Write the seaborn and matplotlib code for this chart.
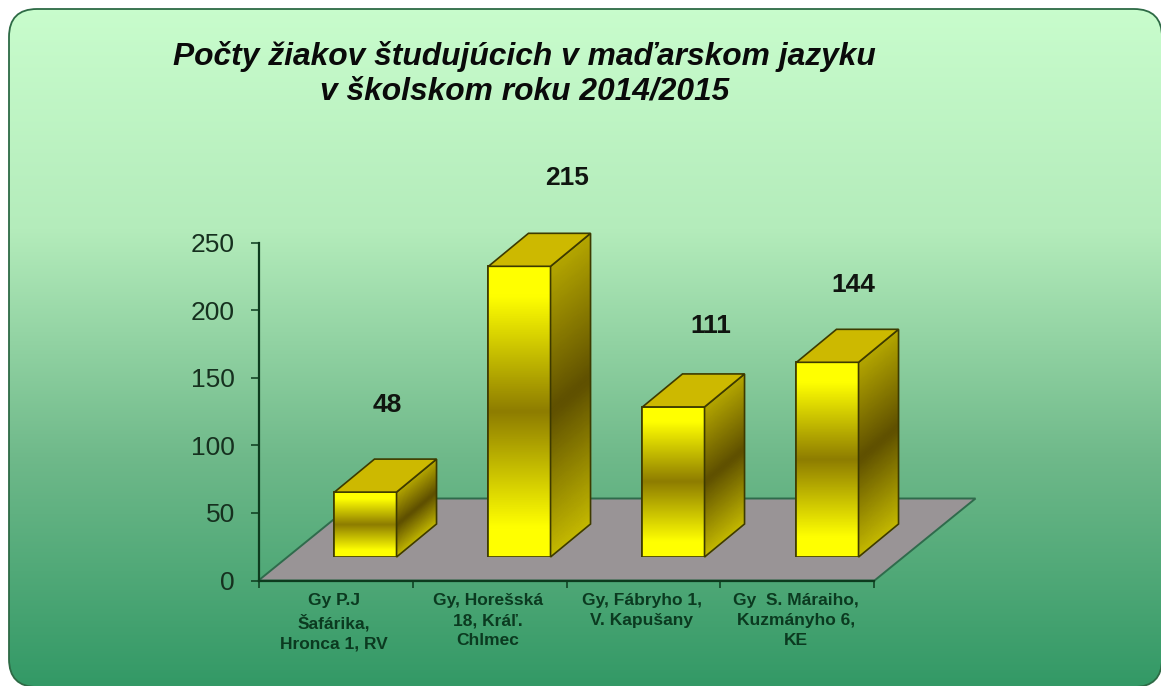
import numpy as np
import pandas as pd
import seaborn as sns
import matplotlib
matplotlib.use("Agg")
import matplotlib.pyplot as plt
from matplotlib.colors import LinearSegmentedColormap
from matplotlib.patches import FancyBboxPatch, Polygon, Rectangle

schools = ["Gy P.J\nŠafárika,\nHronca 1, RV", "Gy, Horešská\n18, Kráľ.\nChlmec",
           "Gy, Fábryho 1,\nV. Kapušany", "Gy  S. Máraiho,\nKuzmányho 6,\nKE"]
students = [48, 215, 111, 144]
y_ticks = [0, 50, 100, 150, 200, 250]
title_lines = ["Počty žiakov študujúcich v maďarskom jazyku", "v školskom roku 2014/2015"]
label_offsets = [(22, 87), (48, 88), (37, 81), (26, 77)]

W, H = 1161, 686
DX, DY = 40, 33
sns.set_theme(style="white")
plt.rcParams["font.family"] = ["Liberation Sans", "DejaVu Sans"]

fig = plt.figure(figsize=(W / 100, H / 100), dpi=100, facecolor="white")


def px_axes(l, t, r, b, z):
    a = fig.add_axes([l / W, 1 - b / H, (r - l) / W, (b - t) / H], zorder=z)
    a.patch.set_alpha(0)
    return a


# pixel canvases: behind and in front of the chart axes
back = px_axes(0, 0, W, H, 0)
back.set_xlim(0, W); back.set_ylim(H, 0); back.axis("off")
front = px_axes(0, 0, W, H, 3)
front.set_xlim(0, W); front.set_ylim(H, 0); front.axis("off")

bg = LinearSegmentedColormap.from_list("bg", ["#c9fdcd", "#b4ecbb", "#6fb98a", "#339966"])
im = back.imshow(np.linspace(0, 1, 256)[:, None], cmap=bg, extent=(0, W, H, 0), aspect="auto", zorder=1)
card = FancyBboxPatch((9, 9), W - 8, H - 8, boxstyle="round,pad=0,rounding_size=28",
                      fc="none", ec="#2d6a45", lw=1.3, zorder=2)
back.add_patch(card)
im.set_clip_path(card)
back.set_xlim(0, W); back.set_ylim(H, 0)

# value axis and category axis
X0, X1, Y0, Y250 = 258.5, 874.5, 580.5, 242.5
ax = px_axes(X0, Y250, X1, Y0, 1)
df = pd.DataFrame({"school": schools, "students": students})
ax.set_xlim(0, len(schools))
ax.set_ylim(0, 250)
ax.set_yticks(y_ticks)
ax.set_xticks(range(len(schools) + 1))
ax.set_xticklabels([])
ax.set_xticks(np.arange(len(schools)) + 0.49, labels=schools, minor=True)
ax.tick_params(axis="y", labelsize=19, length=6, width=1.1, color="#0d3b1e", labelcolor="#16301f", pad=11, left=True)
ax.tick_params(axis="x", which="major", length=5, width=1.1, color="#0d3b1e", direction="out", bottom=True)
ax.tick_params(axis="x", which="minor", length=0, pad=9, labelsize=12.5, labelcolor="#0b3a20")
for t in ax.get_xticklabels(minor=True):
    t.set_fontweight("bold")
    t.set_linespacing(1.42)
for s in ["top", "right"]:
    ax.spines[s].set_visible(False)
for s in ["left", "bottom"]:
    ax.spines[s].set_color("#0d3b1e")
    ax.spines[s].set_linewidth(1.6)
ax.grid(False)

# floor, derived from the plot frame
fdx, fdy = 101, 82
back.add_patch(Polygon([(X0, Y0), (X1, Y0), (X1 + fdx, Y0 - fdy), (X0 + fdx, Y0 - fdy)],
                       closed=True, fc="#999496", ec="#2f6b4c", lw=1.4, zorder=3))

# bars: same scale, shifted onto the floor
SX, SY = 30, 23.5
bax = px_axes(X0 + SX, Y250 - SY, X1 + SX, Y0 - SY, 2)
sns.barplot(data=df, x="school", y="students", ax=bax, color="#ffff00", width=0.403,
            saturation=1, edgecolor="#3d3a00", linewidth=1.2)
bax.set_xlim(-0.5, len(schools) - 0.5)
bax.set_ylim(0, 250)
bax.axis("off")

front_cm = LinearSegmentedColormap.from_list(
    "f", [(0, "#ffff00"), (0.1, "#ffff00"), (0.5, "#8d7c00"), (0.9, "#ffff00"), (1, "#ffff00")])
side_cm = LinearSegmentedColormap.from_list("s", ["#c4b900", "#5e4f00", "#b4a600"])

for patch, val, (ox, oy) in zip(bax.patches, students, label_offsets):
    x0d, w = patch.get_x(), patch.get_width()
    im2 = bax.imshow(np.linspace(0, 1, 128)[:, None], cmap=front_cm, extent=(x0d, x0d + w, 0, val),
                     aspect="auto", zorder=3)
    im2.set_clip_path(patch)
    bax.add_patch(Rectangle((x0d, 0), w, val, fill=False, ec="#3d3a00", lw=1.2, zorder=4))
    # pixel corners of the bar taken from the seaborn patch
    (xa, yb) = bax.transData.transform((x0d, 0))
    (xb, yt) = bax.transData.transform((x0d + w, val))
    xa, xb = xa * W / fig.bbox.width, xb * W / fig.bbox.width
    yb, yt = H - yb, H - yt
    u, v = np.meshgrid(np.linspace(0, 1, 2), np.linspace(0, 1, 60))
    mx = xb + DX * u
    my = yb + (yt - yb) * v - DY * u
    front.pcolormesh(mx, my, v, cmap=side_cm, shading="gouraud", zorder=2)
    front.add_patch(Polygon([(xb, yb), (xb + DX, yb - DY), (xb + DX, yt - DY), (xb, yt)],
                            fill=False, ec="#3d3a00", lw=1.2, zorder=3))
    front.add_patch(Polygon([(xa, yt), (xb, yt), (xb + DX, yt - DY), (xa + DX, yt - DY)],
                            fc="#cdb900", ec="#3d3a00", lw=1.2, zorder=3))
    front.text((xa + xb) / 2 + ox, yt - oy, str(val), ha="center", va="center",
               fontsize=19, fontweight="bold", color="#101510", zorder=5)

front.set_xlim(0, W); front.set_ylim(H, 0)

# title
front.text(524.5, 56, title_lines[0], ha="center", va="center", fontsize=22.9,
           fontweight="bold", fontstyle="italic", color="#0a0a0a")
front.text(524.5, 91, title_lines[1], ha="center", va="center", fontsize=22.9,
           fontweight="bold", fontstyle="italic", color="#0a0a0a")

fig.savefig("out.png", dpi=100, facecolor="white")
